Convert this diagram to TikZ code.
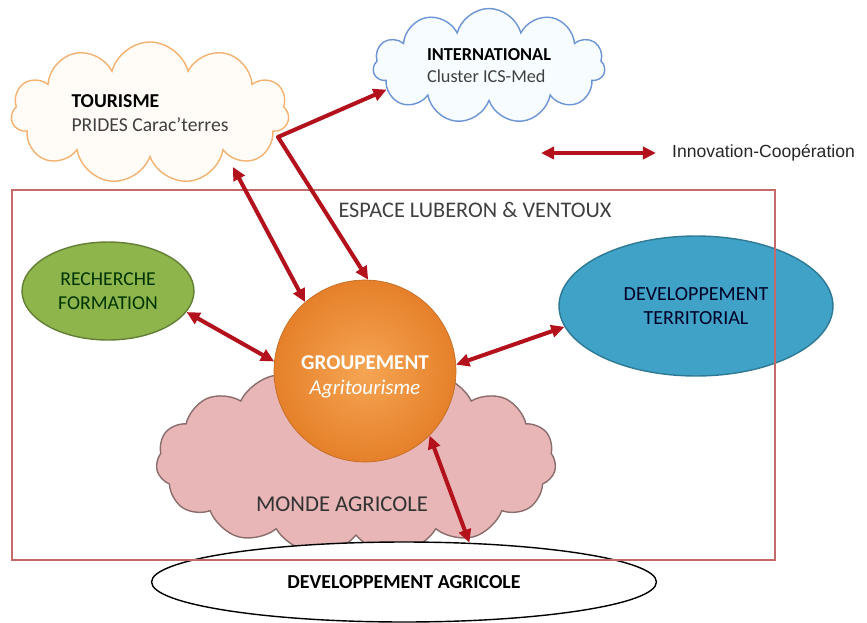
\documentclass[tikz,border=0pt]{standalone}
\usepackage{fontspec}
\setmainfont{Carlito}
\newfontfamily\legfont{Liberation Sans}
\usetikzlibrary{shapes.symbols,shapes.geometric,arrows.meta}
\definecolor{lienrouge}{HTML}{B3121C}
\definecolor{bordcadre}{HTML}{C46A6A}
\definecolor{vertrech}{HTML}{8DB54B}
\definecolor{bleuterr}{HTML}{3FA2C6}
\definecolor{rosemonde}{HTML}{E8B6B6}
\definecolor{orangeclair}{HTML}{F5A553}
\definecolor{orangefonce}{HTML}{E6802A}
\begin{document}
\begin{tikzpicture}[x=0.02cm, y=-0.02cm,
    lien/.style = {line width=2.3pt, lienrouge, line join=round,
      {Triangle[length=7.5pt,width=7pt]}-{Triangle[length=7.5pt,width=7pt]}},
    nuage/.style = {cloud, cloud puffs=11, cloud ignores aspect, draw,
      line width=0.8pt, align=left, inner sep=0pt},
    bulle/.style = {ellipse, draw, line width=0.8pt, align=center, inner sep=0pt}]
    \useasboundingbox (0,0) rectangle (867,623);

    \node[nuage, draw=orange!70!brown!60, fill=orange!3,
      minimum width=5.56cm, minimum height=2.84cm, font=\fontsize{11.2}{13.5}\selectfont] (tour) at (150,113)
      {\textbf{TOURISME}\\ \color{black!75}PRIDES Carac’terres};
    \node[nuage, draw=cyan!45!blue!60, fill=cyan!3,
      minimum width=4.64cm, minimum height=2.3cm, font=\fontsize{10.4}{12.5}\selectfont] (intl) at (489,66)
      {\textbf{INTERNATIONAL}\\ \color{black!75}Cluster ICS-Med};
    \node[nuage, cloud puffs=15, cloud puff arc=110, draw=rosemonde!60!black, fill=rosemonde,
      minimum width=8cm, minimum height=3.75cm] (monde) at (356,461) {};
    \node[font=\fontsize{12.9}{15}\selectfont, text=black!80] (mondetxt) at (342,504) {MONDE AGRICOLE};
    \node[bulle, draw=vertrech!70!black, fill=vertrech, text=black!80!green,
      minimum width=3.44cm, minimum height=1.96cm, font=\fontsize{11.2}{13.5}\selectfont] (rech) at (108,291)
      {RECHERCHE\\FORMATION};
    \node[bulle, draw=bleuterr!75!black, fill=bleuterr, text=black!85!blue,
      minimum width=5.48cm, minimum height=2.8cm, font=\fontsize{11.4}{14}\selectfont] (terr) at (696,306)
      {DEVELOPPEMENT\\TERRITORIAL};
    \node[circle, draw=orangefonce!85!black, inner color=orangeclair, outer color=orangefonce,
      minimum size=3.64cm, inner sep=0pt] (grp) at (365,371) {};
    \node[align=center, text=white, font=\large] (grptxt) at (365,377)
      {\textbf{GROUPEMENT}\\ \textit{Agritourisme}};
    \node[bulle, draw=black, fill=white, minimum width=10.1cm, minimum height=1.6cm,
      font=\fontsize{11.3}{13.5}\selectfont] (devagr) at (404,582) {\textbf{DEVELOPPEMENT AGRICOLE}};
    \node[draw=bordcadre, line width=1pt, minimum width=15.26cm, minimum height=7.4cm,
      inner sep=0pt] (espace) at (393.5,375) {};
    \node[font=\fontsize{12.7}{15}\selectfont, text=black!75] (espacetxt) at (475,210) {ESPACE LUBERON \& VENTOUX};

    \coordinate (tourbas) at (233,167);
    \coordinate (fourche) at (278,137);
    \coordinate (legA) at (541,153);
    \coordinate (legB) at (656,153);
    \node[font=\legfont\normalsize, anchor=west, text=black!85] (legtxt) at (666,153)
      {Innovation-Coopération};

    \draw[lien] (legA) -- (legB);
    \draw[lien] (tourbas) -- (grp.131);
    \draw[lien] (intl.193) -- (fourche) -- (grp.88);
    \draw[lien] (rech.-15) -- (grp.174);
    \draw[lien] (terr.189) -- (grp.4);
    \draw[lien] (grp.-45) -- (devagr.31);
\end{tikzpicture}
\end{document}
